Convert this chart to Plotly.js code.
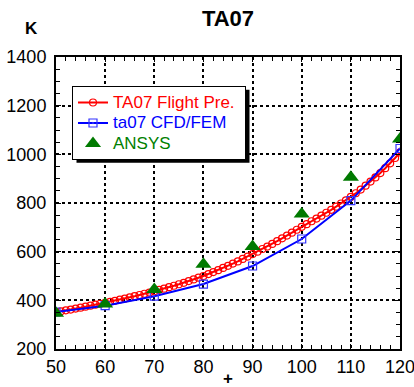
<!DOCTYPE html>
<html>
<head>
<meta charset="utf-8">
<script src="https://cdn.plot.ly/plotly-3.0.1.min.js"></script>
<style>
html,body{margin:0;padding:0;background:#fff;}
#chart{width:414px;height:387px;}
</style>
</head>
<body>
<div id="chart"></div>
<script>
// Red series: TA07 Flight Pre. (dense samples)
const flightX = [50,51,52,53,54,55,56,57,58,59,60,61,62,63,64,65,66,67,68,69,70,71,72,73,74,75,76,77,78,79,80,81,82,83,84,85,86,87,88,89,90,91,92,93,94,95,96,97,98,99,100,101,102,103,104,105,106,107,108,109,110,111,112,113,114,115,116,117,118,119,120];
const flightY = [352,355,359,362,366,370,374,378,382,386,390,394,398,403,407,412,417,422,427,432,437,443,448,454,460,466,472,479,486,493,500,508,516,524,533,542,551,560,570,580,590,600,611,621,632,643,655,666,678,690,702,713,725,736,748,760,772,785,798,811,825,840,855,871,888,905,923,943,963,985,1008];
// Blue series: ta07 CFD/FEM
const cfdX = [50,60,70,80,90,100,110,120];
const cfdY = [352,378,417,467,541,652,810,1024];
// Green series: ANSYS
const ansysX = [50,60,70,80,90,100,110,120];
const ansysY = [347,385,445,548,621,755,906,1063];

const FONT = 'Liberation Sans, Arial, sans-serif';

const traces = [
  {
    x: flightX, y: flightY, type: 'scatter', mode: 'lines+markers',
    name: '<span style="color:#ff0000;font-size:17px">TA07 Flight Pre. </span>',
    line: {color: '#ff0000', width: 2},
    marker: {symbol: 'circle-open', size: 7, color: '#ff0000', line: {width: 1.2, color: '#ff0000'}}
  },
  {
    x: cfdX, y: cfdY, type: 'scatter', mode: 'lines+markers',
    name: '<span style="color:#0000ff;font-size:17px">ta07 CFD/FEM</span>',
    line: {color: '#0000ff', width: 2},
    marker: {symbol: 'square-open-dot', size: 8, color: '#3333ff', line: {width: 1.2, color: '#3333ff'}}
  },
  {
    x: ansysX, y: ansysY, type: 'scatter', mode: 'markers',
    name: '<span style="color:#008000;font-size:17px">ANSYS</span>',
    marker: {symbol: 'triangle-up', size: 14, color: '#007a00'}
  }
];

const axisCommon = {
  showline: true, linecolor: '#000', linewidth: 2, mirror: 'allticks',
  ticks: 'inside', ticklen: 5, tickwidth: 1, tickcolor: '#000',
  showgrid: true, gridcolor: '#000', gridwidth: 2, griddash: 'dot',
  zeroline: false,
  tickfont: {family: FONT, size: 18, color: '#000'}
};

const M = {l: 56, r: 14, t: 57, b: 38};
const layout = {
  width: 414, height: 387,
  margin: M,
  paper_bgcolor: '#fff', plot_bgcolor: '#fff',
  font: {family: FONT, color: '#000'},
  title: {
    text: '<b>TA07</b>', font: {family: FONT, size: 22, color: '#000'},
    xref: 'paper', x: 0.5, xanchor: 'center',
    yref: 'container', y: 0.953, yanchor: 'middle'
  },
  xaxis: Object.assign({}, axisCommon, {
    range: [50, 120], dtick: 10, tick0: 50, ticklabeloverflow: 'allow',
    minor: {ticks: 'inside', dtick: 2, ticklen: 4, tickcolor: '#000', showgrid: false}
  }),
  yaxis: Object.assign({}, axisCommon, {
    range: [200, 1400], dtick: 200, tick0: 200, ticklabelstandoff: 4,
    minor: {ticks: 'inside', dtick: 50, ticklen: 4, tickcolor: '#000', showgrid: false}
  }),
  showlegend: true,
  legend: {
    x: 0.0465, y: 0.9, xanchor: 'left', yanchor: 'top',
    bgcolor: '#fff', bordercolor: '#000', borderwidth: 1,
    font: {family: FONT, size: 13.5},
    tracegroupgap: 0
  },
  annotations: [
    {text: '<b>K</b>', xref: 'paper', yref: 'paper', x: -0.072, y: 1.096,
     xanchor: 'center', yanchor: 'middle',
     showarrow: false, font: {family: FONT, size: 17, color: '#000'}},
    {text: '<b>+</b>', xref: 'paper', yref: 'paper', x: 0.5, y: -0.1,
     xanchor: 'center', yanchor: 'middle',
     showarrow: false, font: {family: FONT, size: 17, color: '#000'}}
  ],
  shapes: []
};

const gd = document.getElementById('chart');
Plotly.newPlot(gd, traces, layout, {displayModeBar: false, staticPlot: true}).then(function () {
  // Drop shadow behind the legend box, sized from the rendered legend
  const bg = gd.querySelector('.legend .bg');
  if (!bg) return;
  const r = bg.getBoundingClientRect();
  const g = gd.getBoundingClientRect();
  const pw = 414 - M.l - M.r, ph = 387 - M.t - M.b;
  const left = r.left - g.left + 4, right = r.right - g.left + 4;
  const top = r.top - g.top + 3, bottom = r.bottom - g.top + 3;
  const shadow = {
    type: 'rect', xref: 'paper', yref: 'paper', layer: 'above',
    x0: (left - M.l) / pw, x1: (right - M.l) / pw,
    y0: (387 - M.b - bottom) / ph, y1: (387 - M.b - top) / ph,
    fillcolor: '#000', line: {width: 0}
  };
  return Plotly.relayout(gd, {shapes: [shadow]});
});
</script>
</body>
</html>
